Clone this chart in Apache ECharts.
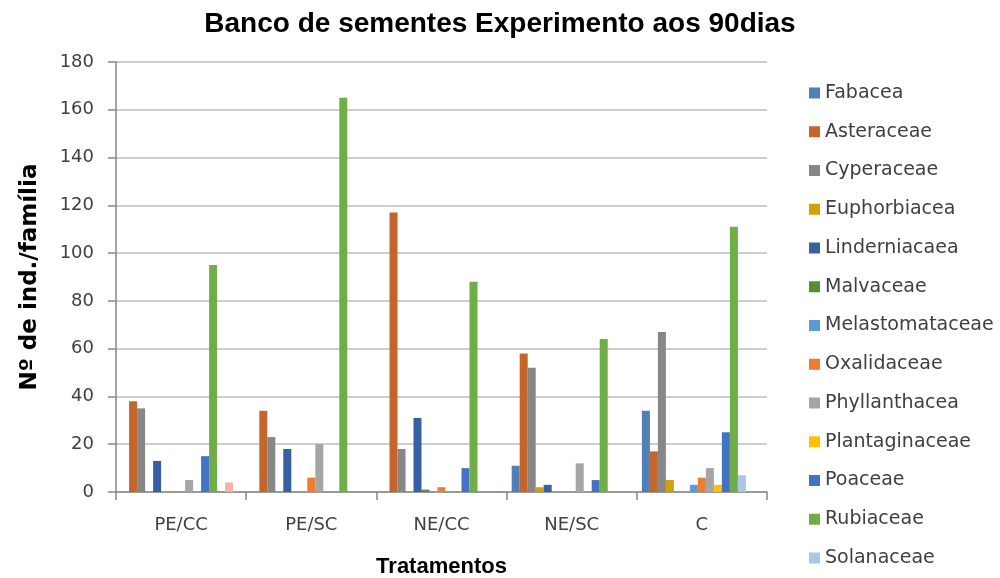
<!DOCTYPE html>
<html>
<head>
<meta charset="utf-8">
<title>Banco de sementes</title>
<script src="https://cdn.jsdelivr.net/npm/echarts@6/dist/echarts.min.js"></script>
<style>
  html, body { margin: 0; padding: 0; background: #fff; }
  #chart { width: 1000px; height: 578px; }
</style>
</head>
<body>
<div id="chart"></div>
<script>
// treatments on the x axis
const categories = ["PE/CC", "PE/SC", "NE/CC", "NE/SC", "C"];

// one array per family, values per treatment
const fabacea         = [0, 0, 0, 11, 34];
const asteraceae      = [38, 34, 117, 58, 17];
const cyperaceae      = [35, 23, 18, 52, 67];
const euphorbiacea    = [0, 0, 0, 2, 5];
const linderniacaea   = [13, 18, 31, 3, 0];
const malvaceae       = [0, 0, 1, 0, 0];
const melastomataceae = [0, 0, 0, 0, 3];
const oxalidaceae     = [0, 6, 2, 0, 6];
const phyllanthacea   = [5, 20, 0, 12, 10];
const plantaginaceae  = [0, 0, 0, 0, 3];
const poaceae         = [15, 0, 10, 5, 25];
const rubiaceae       = [95, 165, 88, 64, 111];
const solanaceae      = [0, 0, 0, 0, 7];
// two more series whose legend entries are cut off in the original
const serie14         = [4, 0, 0, 0, 0];
const serie15         = [0, 0, 0, 0, 0];

const legendNames = ["Fabacea", "Asteraceae", "Cyperaceae", "Euphorbiacea", "Linderniacaea",
  "Malvaceae", "Melastomataceae", "Oxalidaceae", "Phyllanthacea", "Plantaginaceae",
  "Poaceae", "Rubiaceae", "Solanaceae"];

const seriesList = [
  { name: "Fabacea", data: fabacea, color: "#4E7FB6" },
  { name: "Asteraceae", data: asteraceae, color: "#C5652C" },
  { name: "Cyperaceae", data: cyperaceae, color: "#878787" },
  { name: "Euphorbiacea", data: euphorbiacea, color: "#D3A00A" },
  { name: "Linderniacaea", data: linderniacaea, color: "#3660A3" },
  { name: "Malvaceae", data: malvaceae, color: "#568D3B" },
  { name: "Melastomataceae", data: melastomataceae, color: "#5B9BD5" },
  { name: "Oxalidaceae", data: oxalidaceae, color: "#ED7D31" },
  { name: "Phyllanthacea", data: phyllanthacea, color: "#A5A5A5" },
  { name: "Plantaginaceae", data: plantaginaceae, color: "#FFC000" },
  { name: "Poaceae", data: poaceae, color: "#4472C4" },
  { name: "Rubiaceae", data: rubiaceae, color: "#70AD47" },
  { name: "Solanaceae", data: solanaceae, color: "#A9C6E8" },
  { name: "Série 14", data: serie14, color: "#F3B6A0" },
  { name: "Série 15", data: serie15, color: "#9E480E" },
];

const chart = echarts.init(document.getElementById("chart"));

const option = {
  animation: false,
  title: {
    text: "Banco de sementes Experimento aos 90dias",
    left: "center",
    top: 5,
    textStyle: {
      fontFamily: "Liberation Sans",
      fontWeight: "bold",
      fontSize: 28,
      color: "#000",
    },
  },
  legend: {
    data: legendNames,
    orient: "vertical",
    left: 804,
    top: 78,
    itemWidth: 11,
    itemHeight: 11,
    itemGap: 18.75,
    icon: "rect",
    textStyle: {
      fontFamily: "DejaVu Sans",
      fontSize: 19,
      lineHeight: 20,
      color: "#404040",
    },
  },
  grid: {
    left: 116,
    right: 233,
    top: 62,
    bottom: 86,
    containLabel: false,
    outerBoundsMode: "none",
  },
  xAxis: {
    type: "category",
    data: categories,
    name: "Tratamentos",
    nameLocation: "middle",
    nameGap: 64,
    nameTextStyle: {
      fontFamily: "Liberation Sans",
      fontWeight: "bold",
      fontSize: 22,
      color: "#000",
    },
    axisLine: { lineStyle: { color: "#888", width: 1.5 } },
    axisTick: { show: true, length: 8, lineStyle: { color: "#888", width: 1.5 } },
    axisLabel: {
      margin: 24,
      fontFamily: "DejaVu Sans",
      fontSize: 18,
      color: "#404040",
    },
  },
  yAxis: {
    type: "value",
    min: 0,
    max: 180,
    interval: 20,
    name: "Nº de ind./família",
    nameLocation: "middle",
    nameGap: 74,
    nameTextStyle: {
      fontFamily: "DejaVu Sans",
      fontWeight: "bold",
      fontSize: 23,
      color: "#000",
    },
    axisLine: { show: true, lineStyle: { color: "#888", width: 1.5 } },
    axisTick: { show: true, length: 8, lineStyle: { color: "#888", width: 1.5 } },
    axisLabel: {
      margin: 22,
      fontFamily: "DejaVu Sans",
      fontSize: 18,
      color: "#404040",
    },
    splitLine: { lineStyle: { color: "#BDBDBD", width: 1.5 } },
  },
  series: seriesList.map((s) => ({
    name: s.name,
    type: "bar",
    data: s.data,
    barWidth: 8,
    barGap: "0%",
    itemStyle: { color: s.color },
  })),
};

chart.setOption(option);
</script>
</body>
</html>
